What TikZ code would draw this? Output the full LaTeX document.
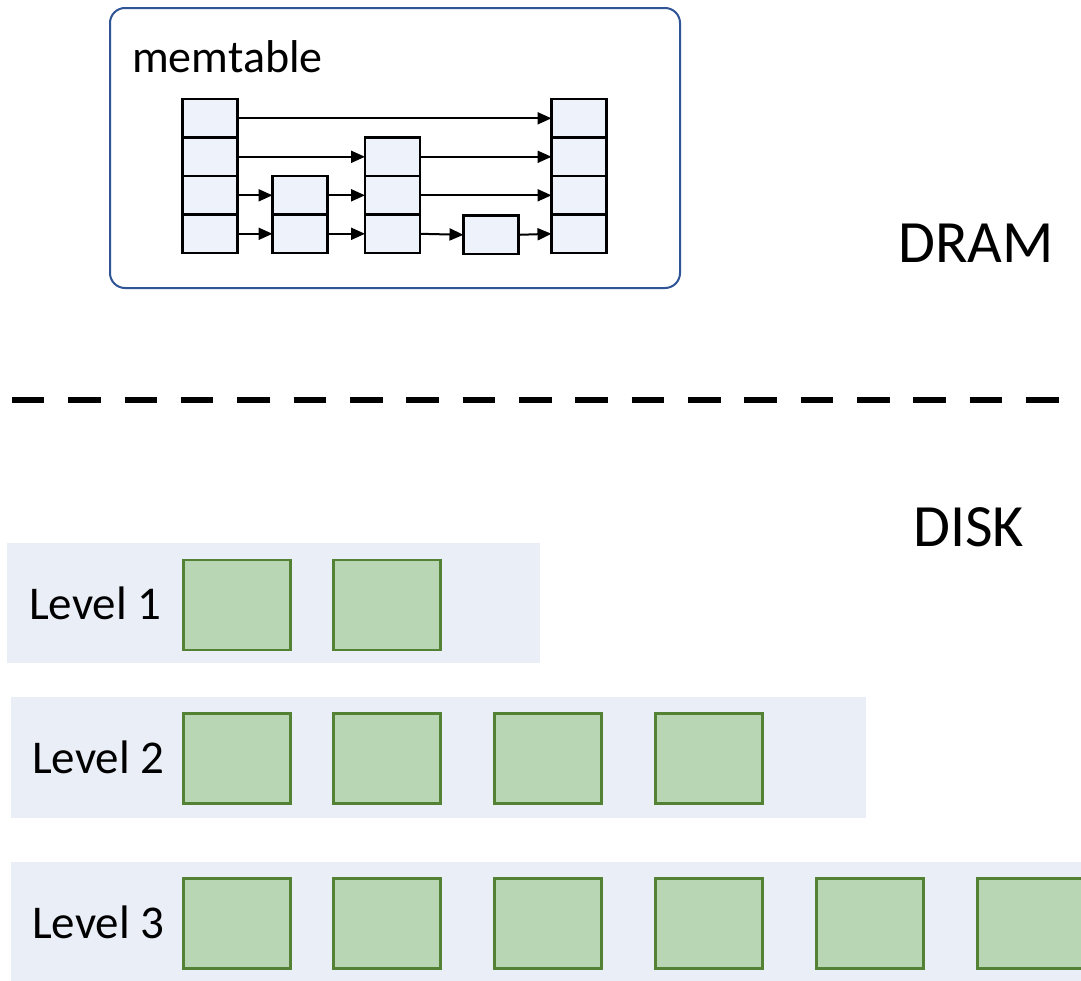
\documentclass[tikz,border=0pt]{standalone}
\usepackage{fontspec}
\setmainfont{Carlito}
\usetikzlibrary{arrows.meta}
\definecolor{memblue}{HTML}{2F5597}
\definecolor{cellfill}{HTML}{EEF3FB}
\definecolor{bandfill}{HTML}{EAEEF7}
\definecolor{sstfill}{HTML}{B8D5B4}
\definecolor{sstdraw}{HTML}{548235}
\tikzset{
  cell/.style={draw=black, line width=2.6pt, fill=cellfill, minimum width=55pt, minimum height=38.5pt, inner sep=0pt, outer sep=0pt},
  arr/.style={line width=2pt, -{Triangle[length=14pt,width=12pt]}},
  band/.style={fill=bandfill, draw=none, inner sep=0pt, outer sep=0pt, anchor=north west},
  sst/.style={draw=sstdraw, line width=2.5pt, fill=sstfill, minimum width=107pt, minimum height=90pt, inner sep=0pt, anchor=north west},
  lbl/.style={inner sep=0pt, anchor=base west, font=\fontsize{47}{52}\selectfont},
  big/.style={inner sep=0pt, anchor=base west, font=\fontsize{60}{66}\selectfont}
}
\begin{document}
\begin{tikzpicture}[x=1pt,y=-1pt]
\clip (0,0) rectangle (1081,980);
\fill[white] (0,0) rectangle (1081,980);

% memtable container
\node[draw=memblue, line width=2pt, rounded corners=15pt, minimum width=570pt, minimum height=280pt, inner sep=0pt] (mem) at (395,148) {};
\node[inner sep=0pt, anchor=base west, font=\fontsize{46}{50}\selectfont] (memlbl) at (132,72) {memtable};

% skip list columns
\foreach \r/\y in {1/118.3,2/156.8,3/195.3,4/233.8}{
  \node[cell] (a\r) at (210,\y) {};
  \node[cell] (e\r) at (579,\y) {};
}
\foreach \r/\y in {3/195.3,4/233.8}{
  \node[cell] (b\r) at (300,\y) {};
}
\foreach \r/\y in {2/156.8,3/195.3,4/233.8}{
  \node[cell] (c\r) at (392.5,\y) {};
}
\node[cell] (d4) at (491,234.8) {};

% pointers
\draw[arr] (a1.east) -- (e1.west);
\draw[arr] (a2.east) -- (c2.west);
\draw[arr] (c2.east) -- (e2.west);
\draw[arr] (a3.east) -- (b3.west);
\draw[arr] (b3.east) -- (c3.west);
\draw[arr] (c3.east) -- (e3.west);
\draw[arr] (a4.east) -- (b4.west);
\draw[arr] (b4.east) -- (c4.west);
\draw[arr] (c4.east) -- (d4.west);
\draw[arr] (d4.east) -- (e4.west);

% labels
\node[big] (dram) at (898,262) {DRAM};
\node[big] (disk) at (913,546) {DISK};

% separator
\draw[line width=6pt, dash pattern=on 32.6pt off 23.75pt] (11.8,400) -- (1090,400);

% level bands
\node[band, minimum width=533pt, minimum height=120pt] (band1) at (7,543) {};
\node[band, minimum width=855pt, minimum height=121pt] (band2) at (11,697) {};
\node[band, minimum width=1080pt, minimum height=130pt] (band3) at (11,862) {};

\node[lbl] (lv1) at (29,619) {Level 1};
\node[lbl] (lv2) at (32,773) {Level 2};
\node[lbl] (lv3) at (32,938) {Level 3};

% level 1
\node[sst] (s11) at (182,558.5) {};
\node[sst] (s12) at (332,558.5) {};
% level 2
\foreach \i/\x in {1/182,2/332,3/493,4/654}{
  \node[sst] (s2\i) at (\x,712) {};
}
% level 3
\foreach \i/\x in {1/182,2/332,3/493,4/654,5/815,6/976}{
  \node[sst] (s3\i) at (\x,877) {};
}
\end{tikzpicture}
\end{document}
